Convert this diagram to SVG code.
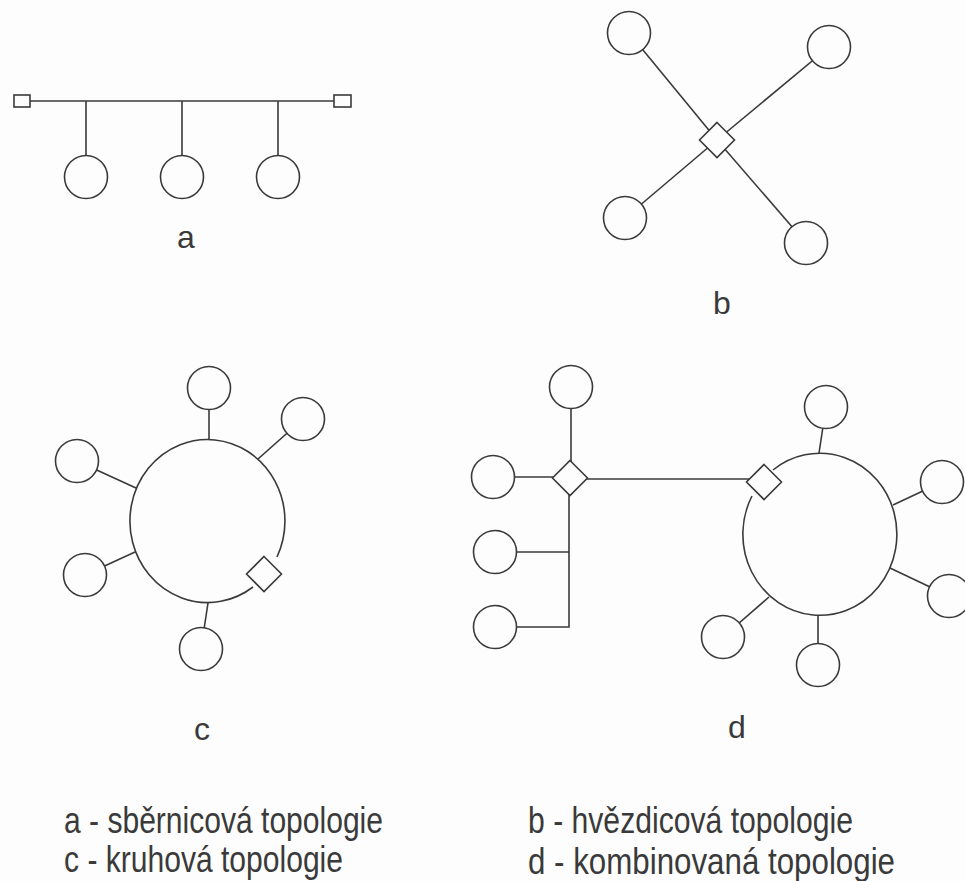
<svg xmlns="http://www.w3.org/2000/svg" width="965" height="881" viewBox="0 0 965 881">
  <style>
    .ln { stroke: #3a3a3a; stroke-width: 1.6; fill: none; }
    .node { stroke: #3a3a3a; stroke-width: 1.6; fill: #fdfdfd; }
    .ring { stroke: #3a3a3a; stroke-width: 1.6; fill: none; }
    .lbl { font-family: "Liberation Sans", Arial, sans-serif; font-size: 32px; fill: #3a3a3a; }
    .leg { font-family: "Liberation Sans", Arial, sans-serif; font-size: 36px; fill: #3a3a3a; }
  </style>
  <defs>
    <circle id="st" r="21.5"/>
    <polygon id="hub" points="0,-17.5 17.5,0 0,17.5 -17.5,0"/>
  </defs>
  <rect width="965" height="881" fill="#fdfdfd"/>

  <!-- connectors -->
  <g id="connectors" class="ln">
    <!-- a: bus -->
    <line x1="30" y1="101" x2="334" y2="101"/>
    <line x1="86" y1="101" x2="86" y2="156"/>
    <line x1="182" y1="101" x2="182" y2="156"/>
    <line x1="278" y1="101" x2="278" y2="156"/>
    <!-- b: star -->
    <line x1="629" y1="33" x2="717" y2="140"/>
    <line x1="829" y1="47" x2="717" y2="140"/>
    <line x1="625" y1="218" x2="717" y2="140"/>
    <line x1="806" y1="243" x2="717" y2="140"/>
    <!-- c: ring stubs -->
    <line x1="209" y1="388" x2="209" y2="440"/>
    <line x1="303" y1="419" x2="258" y2="459"/>
    <line x1="77" y1="461" x2="136" y2="488"/>
    <line x1="85" y1="575" x2="135" y2="552"/>
    <line x1="201" y1="649" x2="208" y2="603"/>
    <!-- d: star part -->
    <line x1="571" y1="387" x2="571" y2="478"/>
    <line x1="493" y1="477" x2="570" y2="477"/>
    <line x1="570" y1="479" x2="762" y2="479"/>
    <polyline points="569,478 569,627 495,627"/>
    <line x1="495" y1="552" x2="569" y2="552"/>
    <!-- d: ring stubs -->
    <line x1="826" y1="407" x2="819" y2="453"/>
    <line x1="942" y1="482" x2="893" y2="505"/>
    <line x1="949" y1="596" x2="890" y2="568"/>
    <line x1="818" y1="665" x2="818" y2="615"/>
    <line x1="723" y1="637" x2="769" y2="597"/>
  </g>

  <!-- a: bus topology -->
  <g id="bus-term-left"><rect class="node" x="14" y="95" width="16" height="12"/></g>
  <g id="bus-term-right"><rect class="node" x="334" y="95" width="17" height="12"/></g>
  <g id="a-n1"><use href="#st" class="node" x="86" y="177"/></g>
  <g id="a-n2"><use href="#st" class="node" x="182" y="177"/></g>
  <g id="a-n3"><use href="#st" class="node" x="278" y="177"/></g>
  <text class="lbl" x="186" y="248" text-anchor="middle">a</text>

  <!-- b: star topology -->
  <g id="b-hub"><use href="#hub" class="node" x="717" y="140"/></g>
  <g id="b-n1"><use href="#st" class="node" x="629" y="33"/></g>
  <g id="b-n2"><use href="#st" class="node" x="829" y="47"/></g>
  <g id="b-n3"><use href="#st" class="node" x="625" y="218"/></g>
  <g id="b-n4"><use href="#st" class="node" x="806" y="243"/></g>
  <text class="lbl" x="722" y="314" text-anchor="middle">b</text>

  <!-- c: ring topology -->
  <g id="c-ring"><path class="ring" d="M 253 587 A 77.5 81.5 0 1 1 277 557"/></g>
  <g id="c-hub"><use href="#hub" class="node" x="264" y="574"/></g>
  <g id="c-n1"><use href="#st" class="node" x="209" y="388"/></g>
  <g id="c-n2"><use href="#st" class="node" x="303" y="419"/></g>
  <g id="c-n3"><use href="#st" class="node" x="77" y="461"/></g>
  <g id="c-n4"><use href="#st" class="node" x="85" y="575"/></g>
  <g id="c-n5"><use href="#st" class="node" x="201" y="649"/></g>
  <text class="lbl" x="202" y="740" text-anchor="middle">c</text>

  <!-- d: combined topology -->
  <g id="d-hub-left"><use href="#hub" class="node" x="570" y="478"/></g>
  <g id="d-n1"><use href="#st" class="node" x="571" y="387"/></g>
  <g id="d-n2"><use href="#st" class="node" x="493" y="477"/></g>
  <g id="d-n3"><use href="#st" class="node" x="495" y="552"/></g>
  <g id="d-n4"><use href="#st" class="node" x="495" y="627"/></g>
  <g id="d-ring"><path class="ring" d="M 773 470 A 77 81 0 1 1 752 496"/></g>
  <g id="d-hub-right"><use href="#hub" class="node" x="764" y="482"/></g>
  <g id="d-n5"><use href="#st" class="node" x="826" y="407"/></g>
  <g id="d-n6"><use href="#st" class="node" x="942" y="482"/></g>
  <g id="d-n7"><use href="#st" class="node" x="949" y="596"/></g>
  <g id="d-n8"><use href="#st" class="node" x="818" y="665"/></g>
  <g id="d-n9"><use href="#st" class="node" x="723" y="637"/></g>
  <text class="lbl" x="737" y="738" text-anchor="middle">d</text>

  <!-- legend -->
  <g id="legend">
    <text class="leg" x="64" y="833" textLength="319" lengthAdjust="spacingAndGlyphs">a - sběrnicová topologie</text>
    <text class="leg" x="64" y="872" textLength="279" lengthAdjust="spacingAndGlyphs">c - kruhová topologie</text>
    <text class="leg" x="528" y="833" textLength="325" lengthAdjust="spacingAndGlyphs">b - hvězdicová topologie</text>
    <text class="leg" x="528" y="874" textLength="367" lengthAdjust="spacingAndGlyphs">d - kombinovaná topologie</text>
  </g>
</svg>
